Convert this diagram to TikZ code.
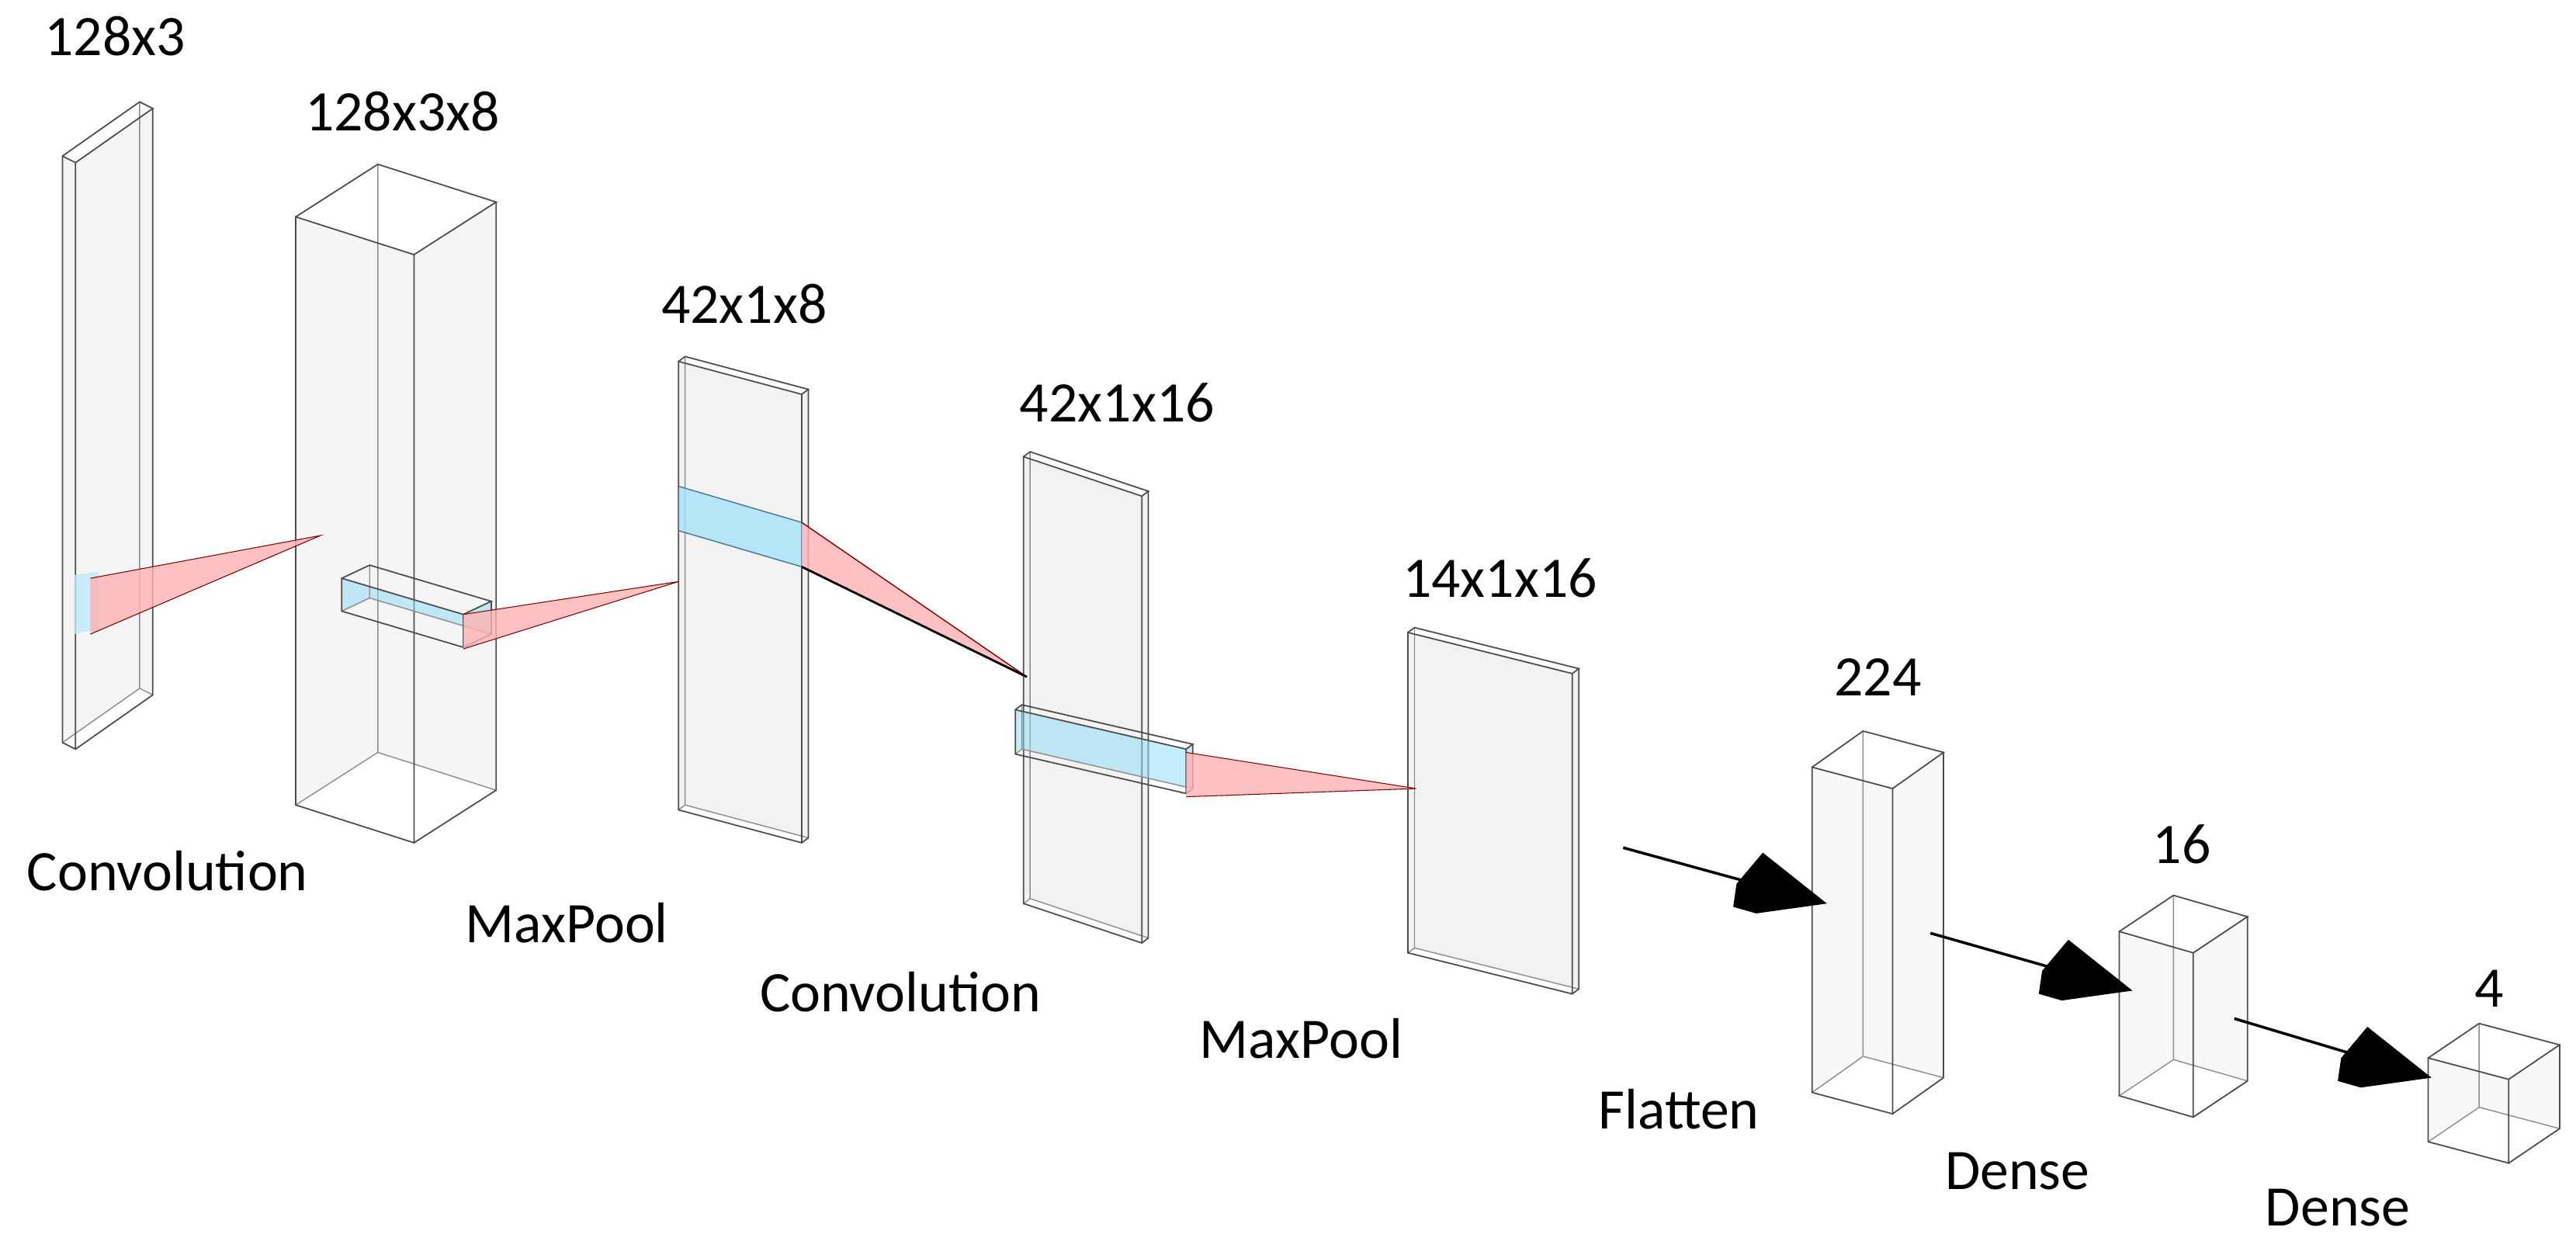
\documentclass[tikz,border=0pt]{standalone}
\usepackage{fontspec}
\setmainfont{Carlito}
\usetikzlibrary{calc}
\begin{document}
\begin{tikzpicture}[x=0.2117mm,y=-0.2117mm,
 lbl/.style={font=\fontsize{21}{24}\selectfont,inner sep=0},
 edge/.style={draw=black!70,line width=0.5pt},
 hid/.style={draw=black!45,line width=0.4pt}]
\useasboundingbox (0,0) rectangle (1568,755);
% #1 x #2 y #3 ax #4 ay #5 dx #6 dy #7 h #8 fill
\newcommand\mycub[8]{%
 \fill[#8,opacity=0.5] (#1,#2) -- ++(#3,#4) -- ++(#5,#6) -- ++(0,#7) -- ++(-#3,-#4) -- ++(-#5,-#6) -- cycle;
 \draw[hid] (#1+#5,#2+#6) -- ++(0,#7) -- ++(-#5,-#6);
 \draw[hid] (#1+#5,#2+#6+#7) -- ++(#3,#4);
 \draw[edge] (#1,#2) -- ++(#3,#4) -- ++(0,#7) -- ++(-#3,-#4) -- cycle;
 \draw[edge] (#1,#2) -- ++(#5,#6) -- ++(#3,#4) -- ++(-#5,-#6);
 \draw[edge] (#1+#3+#5,#2+#4+#6) -- ++(0,#7) -- ++(-#5,-#6);
}
% layers
\mycub{38}{95}{8}{4}{47}{-33}{357}{black!8}
\mycub{180}{132}{72}{23}{50}{-32}{358}{black!8}
\mycub{413}{220}{75}{20}{4}{-3}{273}{black!10}
\mycub{623}{278}{72}{24}{4}{-3}{272}{black!10}
\mycub{857}{385}{100}{25}{4}{-3}{195}{black!10}
\mycub{1103}{467}{49}{13}{31}{-22}{198}{black!6}
\mycub{1290}{567}{45}{13}{33}{-22}{100}{black!6}
\mycub{1478}{644}{49}{13}{31}{-21}{51}{black!6}
% kernels
\fill[cyan!25,opacity=0.8] (45,350) -- (60,348) -- (60,383) -- (45,386) -- cycle;
\fill[red!30,opacity=0.8] (55,352) -- (195,326) -- (55,386) -- cycle;
\draw[red!50!black,line width=0.3pt] (55,352) -- (195,326) -- (55,386);
\mycub{208}{352}{74}{22}{17}{-8}{20}{cyan!45}
\fill[red!30,opacity=0.8] (282,374) -- (413,354) -- (282,395) -- cycle;
\draw[red!50!black,line width=0.3pt] (282,374) -- (413,354) -- (282,395);
\fill[cyan!35,opacity=0.8] (413,296) -- (488,318) -- (488,345) -- (413,323) -- cycle;
\draw[cyan!50!black,line width=0.4pt] (413,296) -- (488,318) -- (488,345) -- (413,323) -- cycle;
\fill[red!30,opacity=0.8] (488,318) -- (625,412) -- (488,345) -- cycle;
\draw[red!50!black,line width=0.4pt] (488,318) -- (625,412);
\draw[black,line width=0.8pt] (488,345) -- (625,412);
\mycub{618}{432}{104}{24}{4}{-3}{27}{cyan!45}
\fill[red!30,opacity=0.8] (722,458) -- (862,480) -- (722,485) -- cycle;
\draw[red!50!black,line width=0.3pt] (722,458) -- (862,480) -- (722,485);
% arrows
\coordinate (a1) at (988,516); \coordinate (b1) at (1112,550);
\coordinate (a2) at (1175,568); \coordinate (b2) at (1298,603);
\coordinate (a3) at (1360,620); \coordinate (b3) at (1480,656);
\foreach \s/\t in {a1/b1,a2/b2,a3/b3}{
 \draw[line width=1pt] (\s) -- ($(\s)!0.6!(\t)$);
 \fill ($(\t)+(-39,-31)$) -- (\t) -- ($(\t)+(-43,6)$) -- ($(\t)+(-57,2)$) -- ($(\t)+(-55,-12)$) -- cycle;
}
% labels
\node[lbl] (t1) at (70,22) {128x3};
\node[lbl] (t2) at (245,68) {128x3x8};
\node[lbl] (t3) at (453,185) {42x1x8};
\node[lbl] (t4) at (680,245) {42x1x16};
\node[lbl] (t5) at (913,352) {14x1x16};
\node[lbl] (t6) at (1143,412) {224};
\node[lbl] (t7) at (1328,514) {16};
\node[lbl] (t8) at (1515,602) {4};
\node[lbl] (o1) at (102,530) {Convolution};
\node[lbl] (o2) at (345,562) {MaxPool};
\node[lbl] (o3) at (548,604) {Convolution};
\node[lbl] (o4) at (792,632) {MaxPool};
\node[lbl] (o5) at (1022,675) {Flatten};
\node[lbl] (o6) at (1228,713) {Dense};
\node[lbl] (o7) at (1423,735) {Dense};
\end{tikzpicture}
\end{document}
